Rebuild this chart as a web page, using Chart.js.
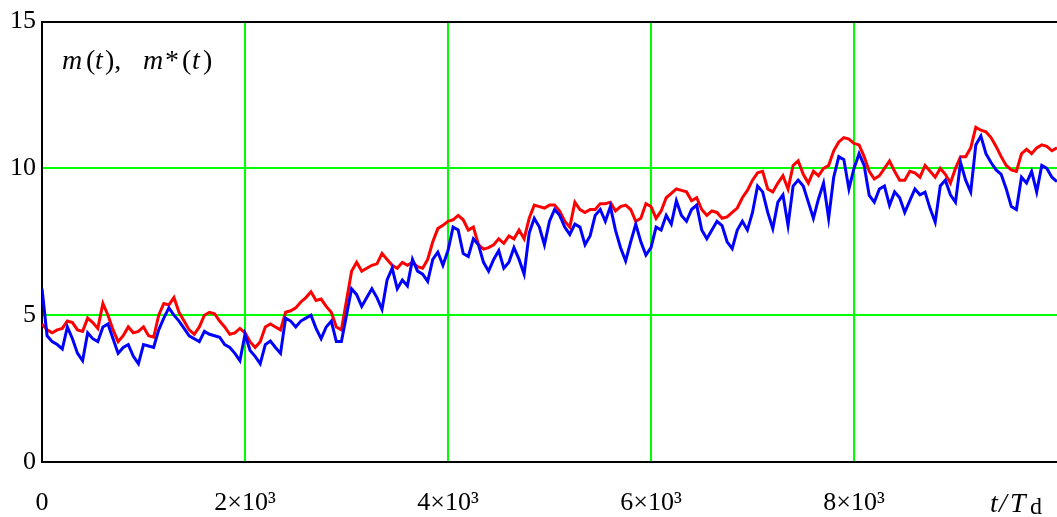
<!DOCTYPE html>
<html>
<head>
<meta charset="utf-8">
<script src="https://cdn.jsdelivr.net/npm/chart.js@4.4.0/dist/chart.umd.min.js"></script>
<style>
  html, body { margin: 0; padding: 0; background: #fff; overflow: hidden; }
  #wrap { width: 1057px; height: 517px; }
</style>
</head>
<body>
<div id="wrap"><canvas id="chartLine"></canvas></div>
<script>

// time grid t/Td
var t = [
  0, 50, 100, 150, 200, 250, 300, 350, 400, 450,
  500, 550, 600, 650, 700, 750, 800, 850, 900, 950,
  1000, 1050, 1100, 1150, 1200, 1250, 1300, 1350, 1400, 1450,
  1500, 1550, 1600, 1650, 1700, 1750, 1800, 1850, 1900, 1950,
  2000, 2050, 2100, 2150, 2200, 2250, 2300, 2350, 2400, 2450,
  2500, 2550, 2600, 2650, 2700, 2750, 2800, 2850, 2900, 2950,
  3000, 3050, 3100, 3150, 3200, 3250, 3300, 3350, 3400, 3450,
  3500, 3550, 3600, 3650, 3700, 3750, 3800, 3850, 3900, 3950,
  4000, 4050, 4100, 4150, 4200, 4250, 4300, 4350, 4400, 4450,
  4500, 4550, 4600, 4650, 4700, 4750, 4800, 4850, 4900, 4950,
  5000, 5050, 5100, 5150, 5200, 5250, 5300, 5350, 5400, 5450,
  5500, 5550, 5600, 5650, 5700, 5750, 5800, 5850, 5900, 5950,
  6000, 6050, 6100, 6150, 6200, 6250, 6300, 6350, 6400, 6450,
  6500, 6550, 6600, 6650, 6700, 6750, 6800, 6850, 6900, 6950,
  7000, 7050, 7100, 7150, 7200, 7250, 7300, 7350, 7400, 7450,
  7500, 7550, 7600, 7650, 7700, 7750, 7800, 7850, 7900, 7950,
  8000, 8050, 8100, 8150, 8200, 8250, 8300, 8350, 8400, 8450,
  8500, 8550, 8600, 8650, 8700, 8750, 8800, 8850, 8900, 8950,
  9000, 9050, 9100, 9150, 9200, 9250, 9300, 9350, 9400, 9450,
  9500, 9550, 9600, 9650, 9700, 9750, 9800, 9850, 9900, 9950,
  10000
];

// red curve
var mRed = [
  4.7, 4.5, 4.4, 4.5, 4.55, 4.8, 4.75, 4.5, 4.45, 4.9,
  4.75, 4.55, 5.4, 5.0, 4.5, 4.1, 4.3, 4.6, 4.4, 4.45,
  4.6, 4.3, 4.25, 5.0, 5.4, 5.35, 5.6, 5.1, 4.8, 4.5,
  4.35, 4.6, 5.0, 5.1, 5.05, 4.8, 4.6, 4.35, 4.4, 4.55,
  4.4, 4.1, 3.9, 4.1, 4.6, 4.7, 4.6, 4.5, 5.1, 5.15,
  5.25, 5.45, 5.6, 5.8, 5.5, 5.55, 5.3, 5.1, 4.6, 4.5,
  5.5, 6.5, 6.8, 6.5, 6.6, 6.7, 6.75, 7.1, 6.9, 6.7,
  6.6, 6.8, 6.7, 6.8, 6.65, 6.6, 6.9, 7.5, 7.95, 8.06,
  8.2, 8.25, 8.4, 8.25, 7.9, 8.0, 7.4, 7.25, 7.3, 7.4,
  7.6, 7.45, 7.7, 7.6, 7.9, 7.6, 8.3, 8.75, 8.7, 8.65,
  8.75, 8.75, 8.55, 8.2, 8.0, 8.85, 8.6, 8.5, 8.6, 8.6,
  8.8, 8.8, 8.85, 8.55, 8.7, 8.75, 8.6, 8.2, 8.3, 8.8,
  8.7, 8.3, 8.55, 9.0, 9.15, 9.3, 9.25, 9.2, 8.9, 9.0,
  8.6, 8.4, 8.55, 8.5, 8.3, 8.35, 8.5, 8.65, 9.0, 9.25,
  9.6, 9.85, 9.9, 9.3, 9.2, 9.5, 9.75, 9.3, 10.1, 10.26,
  9.8, 9.5, 9.9, 9.75, 10.0, 10.1, 10.6, 10.9, 11.05, 11.0,
  10.85, 10.8, 10.4, 9.9, 9.64, 9.75, 10.0, 10.25, 9.9, 9.6,
  9.6, 9.9, 9.85, 9.7, 10.1, 9.9, 9.7, 10.0, 9.8, 9.5,
  10.0, 10.4, 10.4, 10.7, 11.4, 11.3, 11.25, 11.05, 10.75, 10.4,
  10.1, 9.95, 9.9, 10.5, 10.65, 10.5, 10.7, 10.8, 10.75, 10.6,
  10.7
];

// blue curve
var mBlue = [
  5.9, 4.3, 4.1, 4.0, 3.85, 4.6, 4.2, 3.7, 3.45, 4.4,
  4.2, 4.1, 4.6, 4.7, 4.2, 3.7, 3.9, 4.0, 3.6, 3.35,
  4.0, 3.95, 3.9, 4.5, 4.9, 5.25, 5.0, 4.8, 4.55, 4.3,
  4.2, 4.1, 4.45, 4.35, 4.3, 4.25, 4.0, 3.9, 3.7, 3.45,
  4.35, 3.8, 3.6, 3.35, 4.0, 4.12, 3.9, 3.7, 4.9, 4.8,
  4.6, 4.8, 4.9, 5.0, 4.55, 4.2, 4.6, 4.8, 4.1, 4.1,
  5.0, 5.9, 5.7, 5.3, 5.6, 5.9, 5.6, 5.2, 6.2, 6.6,
  5.9, 6.2, 6.0, 6.9, 6.5, 6.4, 6.15, 6.9, 7.15, 6.7,
  7.2, 8.0, 7.9, 7.1, 7.0, 7.6, 7.4, 6.8, 6.5, 6.9,
  7.2, 6.6, 6.8, 7.3, 6.9, 6.4, 7.8, 8.3, 8.0, 7.4,
  8.2, 8.6, 8.4, 8.0, 7.75, 8.1, 8.0, 7.4, 7.7, 8.4,
  8.6, 8.2, 8.7, 7.9, 7.3, 6.85, 7.5, 8.1, 7.5, 7.05,
  7.3, 8.0, 7.9, 8.4, 8.1, 8.9, 8.4, 8.2, 8.6, 8.75,
  7.9, 7.6, 7.9, 8.2, 8.05, 7.5, 7.27, 7.9, 8.2, 7.9,
  8.5, 9.4, 9.2, 8.5, 7.95, 8.85, 9.1, 8.06, 9.4, 9.6,
  9.4, 8.85, 8.3, 8.96, 9.5, 8.3, 9.7, 10.4, 10.3, 9.3,
  10.0, 10.5, 10.1, 9.08, 8.85, 9.3, 9.4, 8.74, 9.2, 9.0,
  8.5, 8.9, 9.3, 9.1, 9.19, 8.63, 8.17, 9.4, 9.6, 9.1,
  8.85, 10.2, 9.6, 9.2, 10.8, 11.1, 10.5, 10.2, 9.95, 9.8,
  9.3, 8.7, 8.6, 9.7, 9.5, 9.9, 9.2, 10.1, 10.0, 9.7,
  9.55
];

var xTicks = [0, 2000, 4000, 6000, 8000, 10000];
var xTickLabels = ['0', '2×10³', '4×10³', '6×10³', '8×10³', ''];
var yTicks = [0, 5, 10, 15];

var serif = '"Liberation Serif", "DejaVu Serif", serif';

function toPoints(ys) {
  return ys.map(function (y, i) { return { x: t[i], y: y }; });
}

// captions drawn on the canvas
var captions = {
  id: 'captions',
  afterDraw: function (chart) {
    var ctx = chart.ctx;
    ctx.save();
    ctx.fillStyle = '#000';
    ctx.textBaseline = 'alphabetic';
    ctx.textAlign = 'left';

    // m(t), m*(t)  -- [style, text, x]
    var parts = [
      ['italic', 'm', 62], ['normal', '(', 86], ['italic', 't', 95], ['normal', '),', 105],
      ['italic', 'm', 143], ['normal', '*', 165], ['normal', '(', 182], ['italic', 't', 192], ['normal', ')', 203]
    ];
    parts.forEach(function (p) {
      ctx.font = p[0] + ' 28px ' + serif;
      ctx.fillText(p[1], p[2], 69);
    });

    // t/Td
    ctx.font = 'italic 28px ' + serif;
    ctx.fillText('t', 990, 512);
    ctx.fillText('/', 999, 512);
    ctx.fillText('T', 1010, 512);
    ctx.font = '24px ' + serif;
    ctx.fillText('d', 1030, 514);
    ctx.restore();
  }
};

var green = '#00ff00';

var chartLine = new Chart(document.getElementById('chartLine'), {
  type: 'line',
  data: {
    datasets: [{
      label: 'm*(t)',
      data: toPoints(mBlue),
      borderColor: '#0000ff',
      borderWidth: 3,
      pointRadius: 0,
      order: 1
    }, {
      label: 'm(t)',
      data: toPoints(mRed),
      borderColor: '#ff0000',
      borderWidth: 3,
      pointRadius: 0,
      order: 2
    }]
  },
  options: {
    responsive: true,
    maintainAspectRatio: false,
    animation: false,
    layout: { padding: { top: 18, right: 0, left: 0, bottom: 0 } },
    plugins: {
      legend: { display: false },
      tooltip: { enabled: false }
    },
    scales: {
      x: {
        type: 'linear',
        min: 0,
        max: 10000,
        afterBuildTicks: function (axis) {
          axis.ticks = xTicks.map(function (v) { return { value: v }; });
        },
        afterFit: function (axis) {
          axis.height = 55;
          axis.paddingLeft = 0;
          axis.paddingRight = 0;
        },
        ticks: {
          color: '#000',
          font: { family: serif, size: 26 },
          padding: 26,
          maxRotation: 0,
          autoSkip: false,
          callback: function (v) { return xTickLabels[xTicks.indexOf(v)]; }
        },
        grid: {
          drawTicks: false,
          lineWidth: 2,
          color: function (c) {
            if (!c.tick) return green;
            if (c.tick.value === 0) return '#000';
            if (c.tick.value === 10000) return 'rgba(0,0,0,0)';
            return green;
          }
        },
        border: { display: true, color: '#000', width: 2 }
      },
      y: {
        min: 0,
        max: 15,
        afterBuildTicks: function (axis) {
          axis.ticks = yTicks.map(function (v) { return { value: v }; });
        },
        afterFit: function (axis) { axis.width = 42; },
        ticks: {
          color: '#000',
          font: { family: serif, size: 26 },
          padding: 6
        },
        grid: {
          drawTicks: false,
          lineWidth: 2,
          color: function (c) {
            return (c.tick && (c.tick.value === 0 || c.tick.value === 15)) ? '#000' : green;
          }
        },
        border: { display: true, color: '#000', width: 2 }
      }
    }
  },
  plugins: [captions]
});
</script>
</body>
</html>
